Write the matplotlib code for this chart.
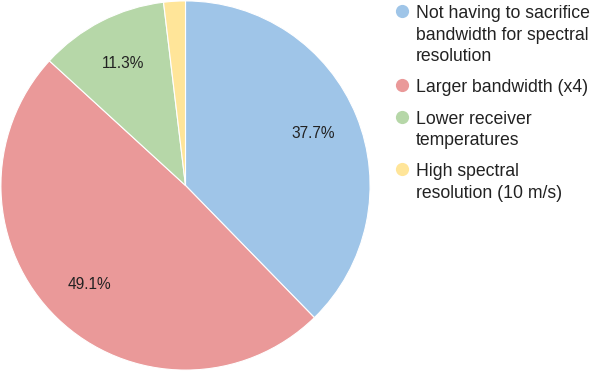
import matplotlib.pyplot as plt

plt.rcParams['font.family'] = ['Liberation Sans', 'DejaVu Sans']

# survey answers, share of votes
labels = ['Not having to sacrifice\nbandwidth for spectral\nresolution',
          'Larger bandwidth (x4)',
          'Lower receiver\ntemperatures',
          'High spectral\nresolution (10 m/s)']
shares = [37.7, 49.1, 11.3, 1.9]
colors = ['#9fc5e8', '#ea9999', '#b6d7a8', '#ffe599']

W, H = 600, 371
fig = plt.figure(figsize=(W / 100, H / 100), dpi=100)
ax = fig.add_axes([0, 0, H / W, 1])


def pct(p):
    return f'{p:.1f}%' if p > 5 else ''


wedges, texts, autotexts = ax.pie(
    shares, colors=colors, startangle=90, counterclock=False,
    autopct=pct, pctdistance=0.745, radius=1,
    wedgeprops=dict(edgecolor='white', linewidth=0.8),
    textprops=dict(fontsize=11.2, color='#222222'))
ax.set_xlim(-1.005, 1.005)
ax.set_ylim(-1.005, 1.005)

# legend drawn by hand, pixel coordinates from the top left
lg = fig.add_axes([0, 0, 1, 1])
lg.set_xlim(0, W)
lg.set_ylim(H, 0)
lg.axis('off')

line_step = 21.2
entry_gap = 10.3
y = 18.3
for lab, c in zip(labels, colors):
    lg.plot(402, y - 7, 'o', markersize=9.5, color=c, markeredgewidth=0)
    for i, part in enumerate(lab.split('\n')):
        lg.text(416, y + i * line_step, part, fontsize=12.7, color='#222222',
                va='baseline', ha='left')
    y += len(lab.split('\n')) * line_step + entry_gap

fig.savefig('out.png', dpi=100)
